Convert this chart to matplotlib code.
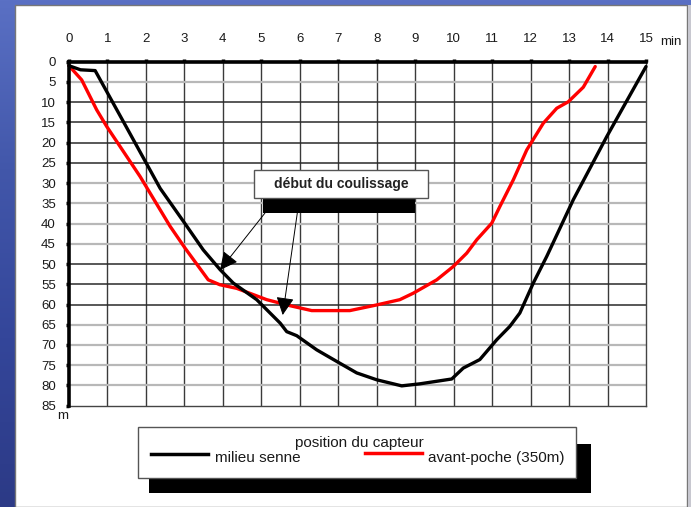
import numpy as np
import matplotlib
matplotlib.use("Agg")
import matplotlib.pyplot as plt
from matplotlib.patches import Rectangle, FancyArrowPatch
from matplotlib.lines import Line2D

plt.rcParams['font.family'] = ['Liberation Sans', 'DejaVu Sans']

# ---------------- data ----------------
minutes_ticks = list(range(0, 16))
depth_ticks = list(range(0, 90, 5))

black_t = [0, 0.30, 0.68, 1.5, 2.37, 3.0, 3.49, 3.93, 4.27, 4.88, 5.49, 5.66, 5.92,
           6.44, 7.04, 7.48, 8.0, 8.65, 9.12, 9.95, 10.25, 10.68, 11.12, 11.46,
           11.72, 12.07, 12.42, 13.11, 13.98, 15.0]
black_d = [1, 2, 2.2, 16.3, 31.3, 39.8, 46.5, 51.4, 54.7, 58.8, 64.6, 66.7, 67.7,
           71.2, 74.5, 76.9, 78.6, 80.1, 79.6, 78.4, 75.7, 73.6, 68.7, 65.4,
           62.1, 54.7, 48.1, 34.1, 18.5, 1.2]

red_t = [0, 0.33, 0.72, 0.98, 1.85, 2.63, 3.02, 3.62, 3.92, 4.36, 5.14, 5.75, 6.31,
         7.30, 8.0, 8.6, 8.95, 9.56, 9.99, 10.34, 10.6, 10.99, 11.2, 11.55, 11.9,
         12.33, 12.68, 12.98, 13.37, 13.68]
red_d = [1, 4.5, 11.9, 16, 28.4, 40.7, 46.1, 53.9, 55.1, 56.0, 58.8, 60.3, 61.5,
         61.5, 60.1, 58.8, 57.2, 53.9, 50.6, 47.3, 44.0, 39.9, 35.8, 29.2, 21.8,
         15.2, 11.5, 9.9, 6.3, 1.2]

series_labels = ["milieu senne", "avant-poche (350m)"]
legend_title = "position du capteur"
annotation_text = "début du coulissage"
x_unit = "min"
y_unit = "m"

# ---------------- figure ----------------
W, H = 691, 507
fig = plt.figure(figsize=(W / 100, H / 100), dpi=100)


def fx(x):
    return x / W


def fy(y):
    return 1 - y / H


# blue background
bg = fig.add_axes([0, 0, 1, 1], zorder=-10)
grad = np.linspace(0, 1, 256)[:, None]
from matplotlib.colors import LinearSegmentedColormap
cmap = LinearSegmentedColormap.from_list("bg", ["#5a70c4", "#4257aa", "#34469a", "#2c3a86"])
bg.imshow(grad, aspect="auto", cmap=cmap, extent=[0, 1, 0, 1])
bg.set_axis_off()

# white panel
fig.patches.append(Rectangle((fx(15), 0), fx(687) - fx(15), fy(5), transform=fig.transFigure,
                             facecolor="white", edgecolor="#777777", lw=1, zorder=-5))
fig.patches.append(Rectangle((fx(687.5), 0), fx(691) - fx(687.5), fy(5), transform=fig.transFigure,
                             facecolor="#c8c8d0", edgecolor="none", zorder=-5))

# main axes
x0, x1, y0, y1 = 69, 646, 61.7, 405.7
ax = fig.add_axes([fx(x0), fy(y1), fx(x1) - fx(x0), (y1 - y0) / H])
ax.set_facecolor("white")
ax.set_xlim(0, 15)
ax.set_ylim(85, 0)

for t in minutes_ticks[1:-1]:
    ax.axvline(t, color="#3a3a3a", lw=1.0, zorder=1)
dark = {10, 15, 20, 25, 50, 55, 60}
for d in depth_ticks[1:-1]:
    if d in dark:
        ax.axhline(d, color="#2a2a2a", lw=1.1, zorder=1)
    else:
        ax.axhline(d, color="#b8b8b8", lw=1.6, zorder=1)

ax.plot(red_t, red_d, color="#ff0000", lw=2.4, zorder=3, clip_on=False,
        solid_joinstyle="round", solid_capstyle="round")
ax.plot(black_t, black_d, color="black", lw=2.4, zorder=4, clip_on=False,
        solid_joinstyle="round", solid_capstyle="round")

ax.xaxis.tick_top()
ax.set_xticks(minutes_ticks)
ax.set_yticks(depth_ticks)
ax.tick_params(axis="x", top=True, bottom=False, labeltop=True, labelbottom=False,
               direction="out", length=2.5, width=2.5, pad=9.5, labelsize=9.5,
               labelcolor="#1a1a1a")
ax.tick_params(axis="y", left=True, direction="out", length=2.5, width=2.5, pad=7,
               labelsize=9.5, labelcolor="#1a1a1a")
for s in ["top", "left"]:
    ax.spines[s].set_linewidth(2.6)
    ax.spines[s].set_color("black")
    ax.spines[s].set_zorder(5)
for s in ["right", "bottom"]:
    ax.spines[s].set_linewidth(1.0)
    ax.spines[s].set_color("#444444")

fig.text(fx(660), fy(45), x_unit, ha="left", va="baseline", fontsize=9.5, color="#1a1a1a")
fig.text(fx(57), fy(419), y_unit, ha="left", va="baseline", fontsize=9.5, color="#1a1a1a")

# annotation box with shadow
fig.patches.append(Rectangle((fx(263.3), fy(213.3)), fx(415) - fx(263.3), (213.3 - 197.7) / H,
                             transform=fig.transFigure, facecolor="black", edgecolor="none", zorder=6))
fig.patches.append(Rectangle((fx(254), fy(197.7)), fx(428.3) - fx(254), (197.7 - 170) / H,
                             transform=fig.transFigure, facecolor="white", edgecolor="#555555",
                             lw=1, zorder=7))
fig.text(fx(341), fy(188), annotation_text, ha="center", va="baseline", fontsize=10,
         fontweight="bold", color="#222222", zorder=8)

for (sx, sy), (tx, ty) in [((265, 213), (220, 270)), ((297.3, 213), (282.7, 315))]:
    arr = FancyArrowPatch((fx(sx), fy(sy)), (fx(tx), fy(ty)), transform=fig.transFigure,
                          arrowstyle="-|>,head_length=1.0,head_width=0.5", mutation_scale=11,
                          color="black", lw=0.7, shrinkA=0, shrinkB=0, zorder=8)
    fig.patches.append(arr)

# legend with shadow
fig.patches.append(Rectangle((fx(149.3), fy(492.7)), fx(590.7) - fx(149.3), (492.7 - 444.3) / H,
                             transform=fig.transFigure, facecolor="black", edgecolor="none", zorder=6))
fig.patches.append(Rectangle((fx(138.3), fy(478.3)), fx(575.7) - fx(138.3), (478.3 - 426.7) / H,
                             transform=fig.transFigure, facecolor="white", edgecolor="#555555",
                             lw=1, zorder=7))
fig.text(fx(359.5), fy(447.3), legend_title, ha="center", va="baseline", fontsize=11,
         color="#1a1a1a", zorder=8)
fig.lines.append(Line2D([fx(150.7), fx(208.3)], [fy(454), fy(454)], transform=fig.transFigure,
                        color="black", lw=2.5, zorder=8))
fig.text(fx(215), fy(461.7), series_labels[0], ha="left", va="baseline", fontsize=11,
         color="#1a1a1a", zorder=8)
fig.lines.append(Line2D([fx(365), fx(422.3)], [fy(453.3), fy(453.3)], transform=fig.transFigure,
                        color="#ff0000", lw=2.5, zorder=8))
fig.text(fx(427.7), fy(462.3), series_labels[1], ha="left", va="baseline", fontsize=11,
         color="#1a1a1a", zorder=8)

fig.savefig("out.png", dpi=100)
